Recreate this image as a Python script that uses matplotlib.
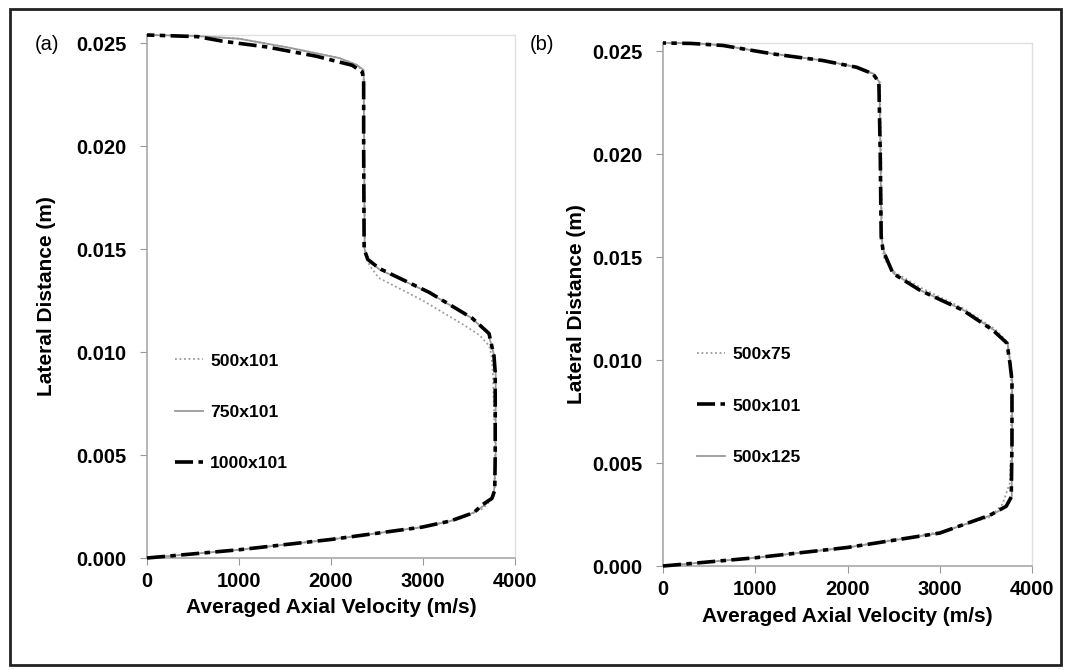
import matplotlib
matplotlib.use("Agg")
import matplotlib.pyplot as plt
from matplotlib.patches import Rectangle

plt.rcParams['font.family'] = ['Liberation Sans', 'DejaVu Sans']

# panel (a): grid study in axial direction
a_labels = ['500x101', '750x101', '1000x101']
a_y_500 = [0, 0.0004, 0.0009, 0.0015, 0.0019, 0.0024, 0.0029, 0.0035, 0.0060, 0.0090, 0.0098,
           0.0103, 0.0108, 0.0113, 0.0125, 0.0136, 0.0142, 0.0148, 0.0200, 0.0236, 0.02395,
           0.02428, 0.02478, 0.02522, 0.02536, 0.0254]
a_u_500 = [0, 1000, 2000, 3000, 3400, 3650, 3760, 3785, 3780, 3760, 3745,
           3720, 3620, 3450, 3000, 2520, 2420, 2370, 2360, 2355, 2280,
           2090, 1550, 1000, 500, 0]
a_y_750 = [0, 0.0004, 0.0009, 0.0015, 0.0018, 0.0022, 0.0026, 0.0030, 0.0050, 0.0090, 0.0098,
           0.0109, 0.01165, 0.0129, 0.0140, 0.0145, 0.0150, 0.0200, 0.0237, 0.02395, 0.02428,
           0.02478, 0.02522, 0.02536, 0.0254]
a_u_750 = [0, 1000, 2000, 2990, 3300, 3550, 3680, 3770, 3790, 3790, 3775,
           3710, 3530, 3060, 2530, 2400, 2365, 2360, 2355, 2280, 2090,
           1550, 1000, 500, 0]
a_y_1000 = [0, 0.0004, 0.0009, 0.0015, 0.0018, 0.0022, 0.0026, 0.0029, 0.0033, 0.0050, 0.0090,
            0.0098, 0.0109, 0.01165, 0.0129, 0.01406, 0.0145, 0.0150, 0.0200, 0.0232, 0.0236,
            0.02393, 0.02437, 0.02482, 0.0251, 0.02532, 0.0254]
a_u_1000 = [0, 1000, 2000, 2990, 3300, 3550, 3650, 3750, 3780, 3785, 3785,
            3772, 3718, 3534, 3068, 2526, 2400, 2360, 2355, 2355, 2340,
            2230, 1840, 1300, 820, 550, 0]

# panel (b): grid study in lateral direction
b_labels = ['500x75', '500x101', '500x125']
b_y_75 = [0, 0.0004, 0.0009, 0.00165, 0.00238, 0.0030, 0.00403, 0.0060, 0.0090, 0.0099,
          0.0109, 0.0115, 0.0125, 0.0135, 0.0143, 0.0149, 0.0155, 0.0200, 0.0235, 0.0239,
          0.02422, 0.02455, 0.02487, 0.02528, 0.0254, 0.0254]
b_u_75 = [0, 1000, 2000, 3000, 3545, 3680, 3760, 3775, 3775, 3765,
          3730, 3600, 3260, 2800, 2500, 2400, 2375, 2365, 2350, 2276,
          2100, 1730, 1190, 650, 300, 0]
b_y_101 = [0, 0.0004, 0.0009, 0.0016, 0.00247, 0.0029, 0.00335, 0.0060, 0.0090, 0.00985,
           0.01082, 0.01145, 0.01242, 0.01339, 0.01421, 0.01533, 0.0160, 0.0200, 0.0235, 0.0239,
           0.02422, 0.02455, 0.02487, 0.02528, 0.02538, 0.0254]
b_u_101 = [0, 1000, 2000, 3000, 3545, 3720, 3775, 3783, 3783, 3761,
           3729, 3577, 3252, 2786, 2493, 2385, 2365, 2355, 2340, 2276,
           2100, 1730, 1190, 650, 300, 0]
b_y_125 = [0, 0.0004, 0.0009, 0.0016, 0.00247, 0.0029, 0.00335, 0.0060, 0.0090, 0.00985,
           0.01082, 0.01145, 0.01242, 0.01339, 0.01421, 0.01533, 0.0160, 0.0200, 0.0235, 0.0239,
           0.02422, 0.02455, 0.02487, 0.02528, 0.0254, 0.0254]
b_u_125 = [0, 1000, 2000, 3000, 3560, 3730, 3780, 3785, 3785, 3765,
           3735, 3590, 3260, 2790, 2500, 2390, 2368, 2357, 2345, 2285,
           2110, 1740, 1200, 660, 300, 0]

x_ticks = [0, 1000, 2000, 3000, 4000]
y_ticks = [0.000, 0.005, 0.010, 0.015, 0.020, 0.025]

dotted = dict(color='#9a9a9a', lw=1.3, ls=(0, (1, 1.5)), zorder=2)
solid = dict(color='#9a9a9a', lw=1.3, ls='-', zorder=3)
dashed = dict(color='black', lw=2.6, ls=(0, (5, 1.5, 1.5, 1.5)), zorder=4)


def style_axes(ax, tag, tag_x, xpad, ypad):
    ax.set_xlim(0, 4000)
    ax.set_ylim(0, 0.0254)
    ax.set_xticks(x_ticks)
    ax.set_yticks(y_ticks)
    ax.set_xticklabels([str(v) for v in x_ticks], fontsize=14.5, fontweight='bold')
    ax.set_yticklabels(['%.3f' % v for v in y_ticks], fontsize=14.5, fontweight='bold')
    ax.tick_params(axis='y', direction='out', length=5, color='#999999', pad=10)
    ax.tick_params(axis='x', direction='out', length=5, color='#999999', pad=5)
    for s in ['left', 'bottom']:
        ax.spines[s].set_color('#a8a8a8')
        ax.spines[s].set_linewidth(1.2)
    for s in ['top', 'right']:
        ax.spines[s].set_color('#e0e0e0')
        ax.spines[s].set_linewidth(1.0)
    ax.set_xlabel('Averaged Axial Velocity (m/s)', fontsize=15, fontweight='bold', labelpad=xpad)
    ax.set_ylabel('Lateral Distance (m)', fontsize=15, fontweight='bold', labelpad=ypad)
    fig.text(tag_x, 0.934, tag, fontsize=14.5, va='center')


fig = plt.figure(figsize=(10.67, 6.70), dpi=100)
ax1 = fig.add_axes([147 / 1067, 1 - 558 / 670, 368 / 1067, 523 / 670])
ax2 = fig.add_axes([663 / 1067, 1 - 566 / 670, 369 / 1067, 523 / 670])

ax1.plot(a_u_500, a_y_500, label=a_labels[0], clip_on=False, **dotted)
ax1.plot(a_u_750, a_y_750, label=a_labels[1], clip_on=False, **solid)
ax1.plot(a_u_1000, a_y_1000, label=a_labels[2], clip_on=False, **dashed)
style_axes(ax1, '(a)', 35 / 1067, 5, 14)
ax1.legend(loc='center left', bbox_to_anchor=(0.076, 0.279), frameon=False,
           prop={'size': 12.6, 'weight': 'bold'}, handlelength=1.6, handletextpad=0.4,
           labelspacing=2.05, borderpad=0, borderaxespad=0)

ax2.plot(b_u_75, b_y_75, label=b_labels[0], clip_on=False, **dotted)
ax2.plot(b_u_101, b_y_101, label=b_labels[1], clip_on=False, **dashed)
ax2.plot(b_u_125, b_y_125, label=b_labels[2], clip_on=False, **solid)
style_axes(ax2, '(b)', 530 / 1067, 6, 4)
ax2.legend(loc='center left', bbox_to_anchor=(0.092, 0.306), frameon=False,
           prop={'size': 12.6, 'weight': 'bold'}, handlelength=1.6, handletextpad=0.4,
           labelspacing=2.05, borderpad=0, borderaxespad=0)

# outer frame
fig.patches.append(Rectangle((10 / 1067, 1 - 665 / 670), 1051 / 1067, 656 / 670,
                             transform=fig.transFigure, fill=False, lw=2, ec='#222222'))

fig.savefig('out.png', dpi=100)
